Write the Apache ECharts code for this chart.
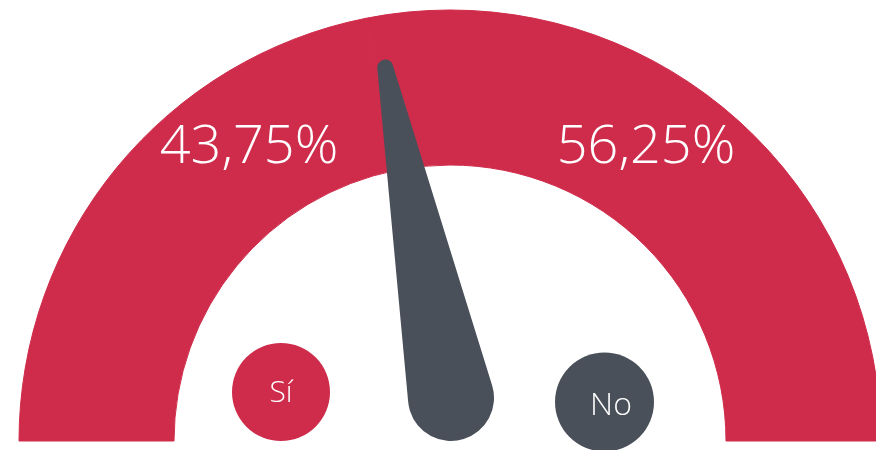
<!DOCTYPE html>
<html>
<head>
<meta charset="utf-8">
<script src="https://cdn.jsdelivr.net/npm/echarts@6/dist/echarts.min.js"></script>
<style>
html,body{margin:0;padding:0;background:#fff;}
#chart{width:876px;height:450px;}
</style>
</head>
<body>
<div id="chart"></div>
<script>
const categories = ['Sí', 'No'];
const values = [43.75, 56.25];
const pointerValue = 43.75;

const RED = '#CF2C4B';
const GRAY = '#4A5059';
const FONT = 'Open Sans';

function fmt(v) { return v.toFixed(2).replace('.', ',') + '%'; }

// Tapered needle: base circle r=43 at bottom, tip circle r=8 at top, centres 337 apart
const needlePath = 'path://M35.04 7.17 A8 8 0 0 1 50.96 7.17 L85.77 340.53 A43 43 0 1 1 0.23 340.53 Z';

const labelPos = [[249, 148], [646, 148]];

const chart = echarts.init(document.getElementById('chart'), null, {renderer: 'canvas'});
chart.setOption({
  animation: false,
  series: [
    {
      type: 'pie',
      center: [450, 441],
      radius: [276, 431],
      startAngle: 180,
      clockwise: true,
      silent: true,
      label: {
        show: true,
        position: 'inside',
        color: '#fff',
        fontFamily: FONT,
        fontWeight: 300,
        fontSize: 54,
        formatter: p => fmt(p.value)
      },
      labelLine: { show: false },
      labelLayout: p => p.dataIndex < 2 ? {
        x: labelPos[p.dataIndex][0], y: labelPos[p.dataIndex][1],
        align: 'center', verticalAlign: 'middle'
      } : {},
      data: categories.map((c, i) => ({ name: c, value: values[i], itemStyle: { color: RED, borderColor: RED, borderWidth: 1 } }))
        .concat([{ name: '', value: values[0] + values[1], itemStyle: { color: 'rgba(0,0,0,0)', borderWidth: 0 }, label: { show: false } }])
    },
    {
      type: 'gauge',
      center: [451, 398],
      radius: 340,
      startAngle: 180,
      endAngle: 0,
      min: 0,
      max: 100,
      z: 5,
      silent: true,
      axisLine: { show: false },
      splitLine: { show: false },
      axisTick: { show: false },
      axisLabel: { show: false },
      anchor: { show: false },
      title: { show: false },
      detail: { show: false },
      pointer: {
        show: true,
        icon: needlePath,
        length: 388,
        width: 86,
        offsetCenter: [0, 43],
        keepAspect: false,
        itemStyle: { color: GRAY }
      },
      data: [{ value: pointerValue }]
    }
  ],
  graphic: [
    { type: 'circle', shape: { cx: 281, cy: 392, r: 49 }, style: { fill: RED }, z: 10 },
    { type: 'text', x: 281, y: 393, style: { text: categories[0], fill: '#fff', font: '300 30px "Open Sans"', align: 'center', verticalAlign: 'middle' }, z: 11 },
    { type: 'circle', shape: { cx: 604.5, cy: 402, r: 49.5 }, style: { fill: GRAY }, z: 10 },
    { type: 'text', x: 611, y: 406, style: { text: categories[1], fill: '#fff', font: '300 32px "Open Sans"', align: 'center', verticalAlign: 'middle' }, z: 11 }
  ]
});
</script>
</body>
</html>
